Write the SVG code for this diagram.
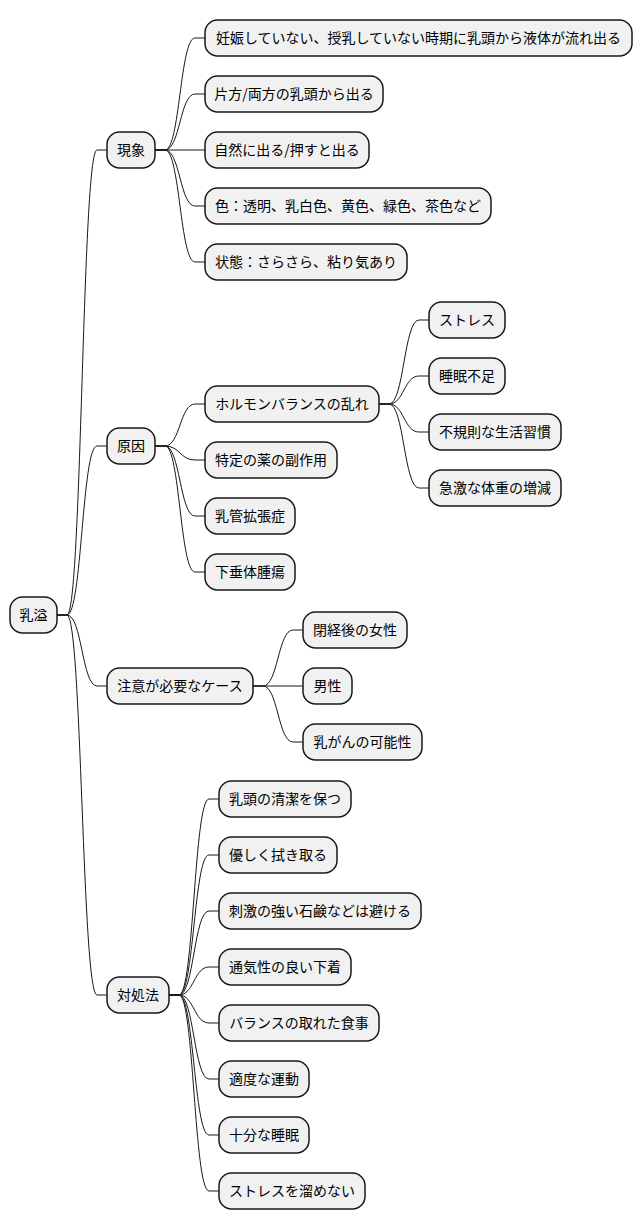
<svg xmlns="http://www.w3.org/2000/svg" width="642" height="1231" viewBox="0 0 642 1231">
<style>
.n rect{fill:#F1F1F1;stroke:#181818;stroke-width:1.5}
.n text{font-family:"Noto Sans CJK JP","Noto Sans",sans-serif;font-size:14px;fill:#000;text-anchor:middle}
#connectors path{fill:none;stroke:#181818;stroke-width:1}
</style>
<rect width="642" height="1231" fill="#FFFFFF"/>
<g id="connectors">
<path d="M57,615 L67,615 C82,615 82,150 97,150 L107,150"/>
<path d="M57,615 L67,615 C82,615 82,446 97,446 L107,446"/>
<path d="M57,615 L67,615 C82,615 82,686 97,686 L107,686"/>
<path d="M57,615 L67,615 C82,615 82,995 97,995 L107,995"/>
<path d="M155,150 L165,150 C180,150 180,38 195,38 L205,38"/>
<path d="M155,150 L165,150 C180,150 180,94 195,94 L205,94"/>
<path d="M155,150 L205,150"/>
<path d="M155,150 L165,150 C180,150 180,206 195,206 L205,206"/>
<path d="M155,150 L165,150 C180,150 180,262 195,262 L205,262"/>
<path d="M155,446 L165,446 C180,446 180,404 195,404 L205,404"/>
<path d="M155,446 L165,446 C180,446 180,460 195,460 L205,460"/>
<path d="M155,446 L165,446 C180,446 180,516 195,516 L205,516"/>
<path d="M155,446 L165,446 C180,446 180,572 195,572 L205,572"/>
<path d="M379,404 L389,404 C404,404 404,320 419,320 L429,320"/>
<path d="M379,404 L389,404 C404,404 404,376 419,376 L429,376"/>
<path d="M379,404 L389,404 C404,404 404,432 419,432 L429,432"/>
<path d="M379,404 L389,404 C404,404 404,488 419,488 L429,488"/>
<path d="M253,686 L263,686 C278,686 278,630 293,630 L303,630"/>
<path d="M253,686 L303,686"/>
<path d="M253,686 L263,686 C278,686 278,742 293,742 L303,742"/>
<path d="M169,995 L179,995 C194,995 194,799 209,799 L219,799"/>
<path d="M169,995 L179,995 C194,995 194,855 209,855 L219,855"/>
<path d="M169,995 L179,995 C194,995 194,911 209,911 L219,911"/>
<path d="M169,995 L179,995 C194,995 194,967 209,967 L219,967"/>
<path d="M169,995 L179,995 C194,995 194,1023 209,1023 L219,1023"/>
<path d="M169,995 L179,995 C194,995 194,1079 209,1079 L219,1079"/>
<path d="M169,995 L179,995 C194,995 194,1135 209,1135 L219,1135"/>
<path d="M169,995 L179,995 C194,995 194,1191 209,1191 L219,1191"/>
</g>
<g id="root" class="n"><rect x="10" y="597" width="47" height="36" rx="12.5"/><text x="33.5" y="620">乳溢</text></g>
<g id="n1" class="n"><rect x="107" y="132" width="48" height="36" rx="12.5"/><text x="131" y="155">現象</text></g>
<g id="n2" class="n"><rect x="107" y="428" width="48" height="36" rx="12.5"/><text x="131" y="451">原因</text></g>
<g id="n3" class="n"><rect x="107" y="668" width="146" height="36" rx="12.5"/><text x="180" y="691">注意が必要なケース</text></g>
<g id="n4" class="n"><rect x="107" y="977" width="62" height="36" rx="12.5"/><text x="138" y="1000">対処法</text></g>
<g id="n1a" class="n"><rect x="205" y="20" width="427" height="36" rx="12.5"/><text x="418.5" y="43">妊娠していない、授乳していない時期に乳頭から液体が流れ出る</text></g>
<g id="n1b" class="n"><rect x="205" y="76" width="178" height="36" rx="12.5"/><text x="294" y="99">片方/両方の乳頭から出る</text></g>
<g id="n1c" class="n"><rect x="205" y="132" width="164" height="36" rx="12.5"/><text x="287" y="155">自然に出る/押すと出る</text></g>
<g id="n1d" class="n"><rect x="205" y="188" width="286" height="36" rx="12.5"/><text x="348" y="211">色：透明、乳白色、黄色、緑色、茶色など</text></g>
<g id="n1e" class="n"><rect x="205" y="244" width="202" height="36" rx="12.5"/><text x="306" y="267">状態：さらさら、粘り気あり</text></g>
<g id="n2a" class="n"><rect x="205" y="386" width="174" height="36" rx="12.5"/><text x="292" y="409">ホルモンバランスの乱れ</text></g>
<g id="n2b" class="n"><rect x="205" y="442" width="132" height="36" rx="12.5"/><text x="271" y="465">特定の薬の副作用</text></g>
<g id="n2c" class="n"><rect x="205" y="498" width="90" height="36" rx="12.5"/><text x="250" y="521">乳管拡張症</text></g>
<g id="n2d" class="n"><rect x="205" y="554" width="90" height="36" rx="12.5"/><text x="250" y="577">下垂体腫瘍</text></g>
<g id="n2a1" class="n"><rect x="429" y="302" width="76" height="36" rx="12.5"/><text x="467" y="325">ストレス</text></g>
<g id="n2a2" class="n"><rect x="429" y="358" width="76" height="36" rx="12.5"/><text x="467" y="381">睡眠不足</text></g>
<g id="n2a3" class="n"><rect x="429" y="414" width="132" height="36" rx="12.5"/><text x="495" y="437">不規則な生活習慣</text></g>
<g id="n2a4" class="n"><rect x="429" y="470" width="132" height="36" rx="12.5"/><text x="495" y="493">急激な体重の増減</text></g>
<g id="n3a" class="n"><rect x="303" y="612" width="104" height="36" rx="12.5"/><text x="355" y="635">閉経後の女性</text></g>
<g id="n3b" class="n"><rect x="303" y="668" width="49" height="36" rx="12.5"/><text x="327.5" y="691">男性</text></g>
<g id="n3c" class="n"><rect x="303" y="724" width="119" height="36" rx="12.5"/><text x="362.5" y="747">乳がんの可能性</text></g>
<g id="n4a" class="n"><rect x="219" y="781" width="132" height="36" rx="12.5"/><text x="285" y="804">乳頭の清潔を保つ</text></g>
<g id="n4b" class="n"><rect x="219" y="837" width="118" height="36" rx="12.5"/><text x="278" y="860">優しく拭き取る</text></g>
<g id="n4c" class="n"><rect x="219" y="893" width="202" height="36" rx="12.5"/><text x="320" y="916">刺激の強い石鹸などは避ける</text></g>
<g id="n4d" class="n"><rect x="219" y="949" width="132" height="36" rx="12.5"/><text x="285" y="972">通気性の良い下着</text></g>
<g id="n4e" class="n"><rect x="219" y="1005" width="160" height="36" rx="12.5"/><text x="299" y="1028">バランスの取れた食事</text></g>
<g id="n4f" class="n"><rect x="219" y="1061" width="90" height="36" rx="12.5"/><text x="264" y="1084">適度な運動</text></g>
<g id="n4g" class="n"><rect x="219" y="1117" width="90" height="36" rx="12.5"/><text x="264" y="1140">十分な睡眠</text></g>
<g id="n4h" class="n"><rect x="219" y="1173" width="146" height="36" rx="12.5"/><text x="292" y="1196">ストレスを溜めない</text></g>
</svg>
